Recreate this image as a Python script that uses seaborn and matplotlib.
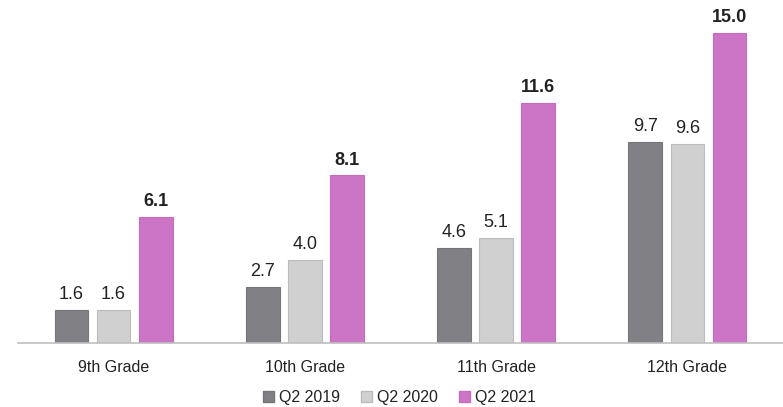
import pandas as pd
import seaborn as sns
import matplotlib.pyplot as plt

grades = ['9th Grade', '10th Grade', '11th Grade', '12th Grade']
series = ['Q2 2019', 'Q2 2020', 'Q2 2021']
q2_2019 = [1.6, 2.7, 4.6, 9.7]
q2_2020 = [1.6, 4.0, 5.1, 9.6]
q2_2021 = [6.1, 8.1, 11.6, 15.0]

colors = ['#808085', '#d1d0d1', '#cc74c5']
edges = ['#76767a', '#bdbcbd', '#c46cbd']

df = pd.DataFrame({
    'grade': grades * 3,
    'period': [s for s in series for _ in grades],
    'value': q2_2019 + q2_2020 + q2_2021,
})

sns.set_theme(style='white')
plt.rcParams['font.family'] = ['Liberation Sans', 'DejaVu Sans']

fig = plt.figure(figsize=(7.83, 4.07), dpi=100)
ax = fig.add_axes([18 / 783, 64 / 407, 765 / 783, 333 / 407])

sns.barplot(data=df, x='grade', y='value', hue='period', palette=colors,
            saturation=1, width=0.66, gap=0.2, legend=False, ax=ax)

for cont, ec, bold in zip(ax.containers, edges, [False, False, True]):
    for bar in cont:
        bar.set_edgecolor(ec)
        bar.set_linewidth(0.8)
    ax.bar_label(cont, fmt='%.1f', padding=5, fontsize=13,
                 fontweight='bold' if bold else 'normal', color='#222222')

ax.set_xlim(-0.5, 3.5)
ax.set_ylim(0, 16.1)
ax.set_yticks([])
ax.set_xlabel('')
ax.set_ylabel('')
for s in ['top', 'right', 'left']:
    ax.spines[s].set_visible(False)
ax.spines['bottom'].set_color('#bfbfbf')
ax.spines['bottom'].set_linewidth(1.2)
ax.tick_params(axis='x', length=0, pad=12, labelsize=11.5, colors='#222222')

handles = [plt.Rectangle((0, 0), 1, 1, facecolor=c, edgecolor=e)
           for c, e in zip(colors, edges)]
fig.legend(handles, series, loc='lower center', bbox_to_anchor=(0.51, -0.03),
           ncol=3, frameon=False, fontsize=11.5, handlelength=0.7,
           handleheight=0.7, handletextpad=0.3, columnspacing=1.3,
           labelcolor='#222222')

fig.savefig('out.png', dpi=100)
